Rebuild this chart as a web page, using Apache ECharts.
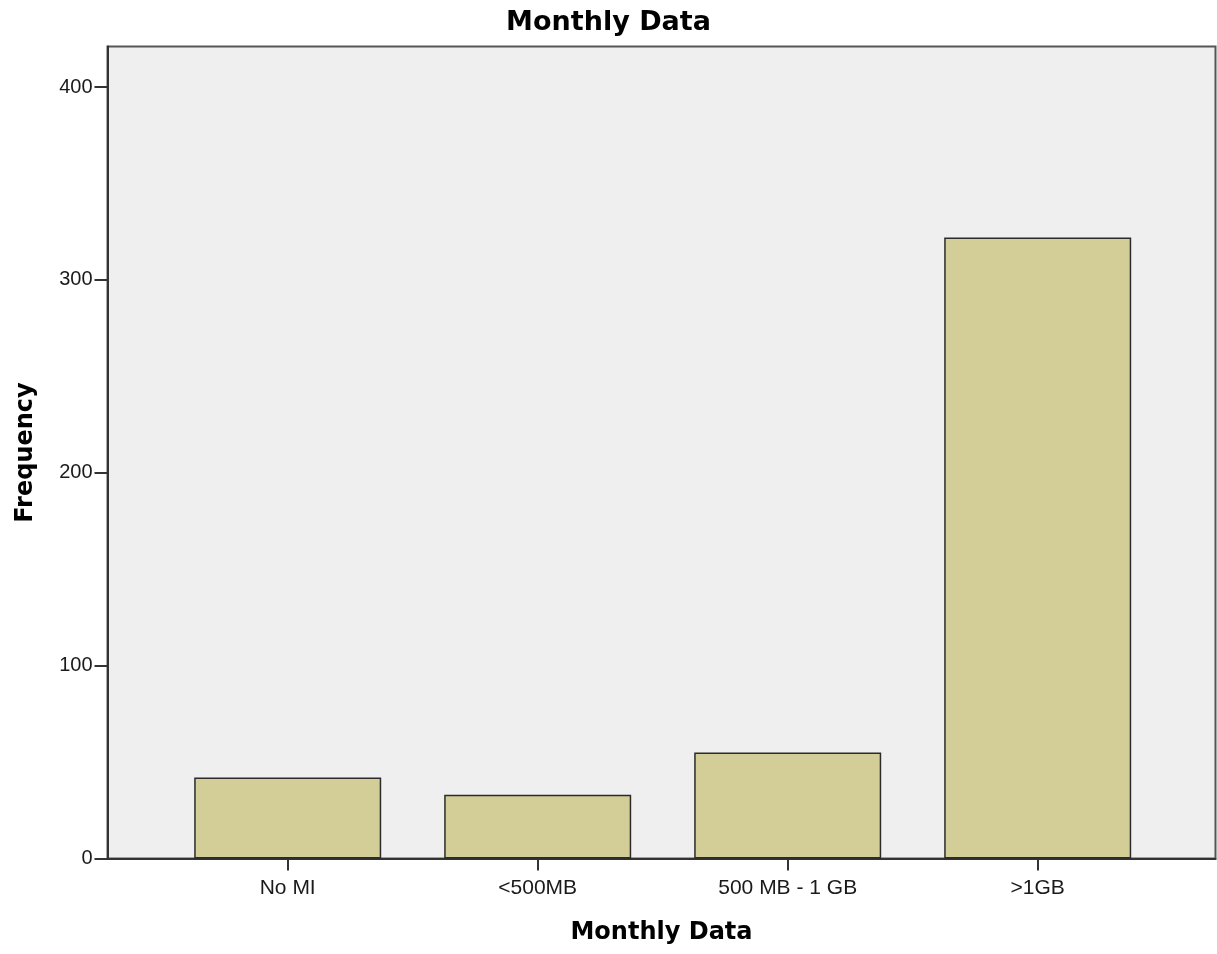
<!DOCTYPE html>
<html>
<head>
<meta charset="utf-8">
<script src="https://cdn.jsdelivr.net/npm/echarts@6/dist/echarts.min.js"></script>
<style>
html,body{margin:0;padding:0;background:#fff;}
#chart{width:1217px;height:954px;}
</style>
</head>
<body>
<div id="chart"></div>
<script>
const categories = ['No MI', '<500MB', '500 MB - 1 GB', '>1GB'];
const frequencies = [42, 33, 55, 322];
const yTicks = [0, 100, 200, 300, 400];
const yMax = 421;

const chart = echarts.init(document.getElementById('chart'));
const tickFont = { fontFamily: 'Liberation Sans', fontSize: 20, color: '#1a1a1a' };
const nameFont = { fontFamily: 'DejaVu Sans', fontSize: 24, fontWeight: 'bold', color: '#000' };

chart.setOption({
  animation: false,
  backgroundColor: '#ffffff',
  title: {
    text: 'Monthly Data',
    left: 'center',
    top: 4,
    textStyle: { fontFamily: 'DejaVu Sans', fontSize: 27, fontWeight: 'bold', color: '#000' }
  },
  grid: [
    { left: 107.5, top: 46.5, width: 1108, height: 812, show: true,
      backgroundColor: '#efefef', borderColor: '#555', borderWidth: 2 },
    { left: 162.7, top: 46.5, width: 1000, height: 812 }
  ],
  xAxis: [
    { gridIndex: 0, type: 'value', min: 0, max: 1,
      axisLine: { show: true, lineStyle: { color: '#333', width: 2 } },
      axisTick: { show: false }, axisLabel: { show: false }, splitLine: { show: false },
      name: 'Monthly Data', nameLocation: 'middle', nameGap: 62, nameTextStyle: nameFont },
    { gridIndex: 1, type: 'category', data: categories, boundaryGap: true,
      axisLine: { show: false },
      axisTick: { show: true, alignWithLabel: true, length: 12, lineStyle: { color: '#333', width: 2 } },
      axisLabel: Object.assign({ margin: 19, interval: 0 }, tickFont, { fontSize: 21 }),
      splitLine: { show: false } }
  ],
  yAxis: [
    { gridIndex: 0, type: 'value', min: 0, max: yMax,
      axisLine: { show: true, lineStyle: { color: '#333', width: 2 } },
      axisTick: { show: true, inside: false, length: 13, customValues: yTicks, lineStyle: { color: '#333', width: 2 } },
      axisLabel: Object.assign({ margin: 15, customValues: yTicks }, tickFont),
      splitLine: { show: false },
      name: 'Frequency', nameLocation: 'middle', nameGap: 70, nameRotate: 90, nameTextStyle: nameFont },
    { gridIndex: 1, type: 'value', min: 0, max: yMax, show: false, splitLine: { show: false } }
  ],
  series: [{
    type: 'bar',
    xAxisIndex: 1, yAxisIndex: 1,
    data: frequencies,
    barWidth: 187,
    itemStyle: { color: '#d3ce97', borderColor: '#2b2b2b', borderWidth: 1.5 }
  }]
});
</script>
</body>
</html>
